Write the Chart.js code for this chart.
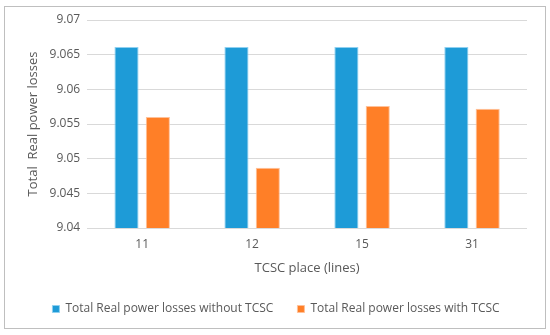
<!DOCTYPE html>
<html>
<head>
<meta charset="utf-8">
<script src="https://cdn.jsdelivr.net/npm/chart.js@4"></script>
<style>
  html, body { margin: 0; padding: 0; background: #fff; }
  #rahmen { position: absolute; left: 4px; top: 6px; width: 540px; height: 321px; border: 1px solid #bfbfbf; }
  #wrap { position: absolute; left: 0; top: 0; width: 550px; height: 335px; }
</style>
</head>
<body>
<div id="rahmen"></div>
<div id="wrap"><canvas id="chart" width="550" height="335"></canvas></div>
<script>
// Daten
const kategorien = ['11', '12', '15', '31'];
const ohneTCSC = [9.0661, 9.0661, 9.0661, 9.0661];
const mitTCSC = [9.0560, 9.0487, 9.0576, 9.0572];
const yTicks = [9.04, 9.045, 9.05, 9.055, 9.06, 9.065, 9.07];

const grau = '#595959';
const schrift = "'Open Sans', sans-serif";

new Chart(document.querySelector('#chart'), {
    type: 'bar',
    data: {
        labels: kategorien,
        datasets: [
            {
                label: 'Total Real power losses without TCSC',
                data: ohneTCSC,
                backgroundColor: '#1e9bd7',
                borderColor: '#8fd0f0',
                borderWidth: 1,
                barPercentage: 0.77,
                categoryPercentage: 0.57
            },
            {
                label: 'Total Real power losses with TCSC',
                data: mitTCSC,
                backgroundColor: '#ff7f27',
                borderColor: '#ffc199',
                borderWidth: 1,
                barPercentage: 0.77,
                categoryPercentage: 0.57
            }
        ]
    },
    options: {
        responsive: false,
        animation: false,
        layout: { padding: { left: 25, right: 23, top: 20, bottom: 10 } },
        scales: {
            y: {
                min: yTicks[0],
                max: yTicks[yTicks.length - 1],
                afterBuildTicks: function (axis) {
                    axis.ticks = yTicks.map(function (v) { return { value: v }; });
                },
                ticks: {
                    color: grau,
                    font: { size: 12, family: schrift },
                    padding: 7,
                    callback: function (value) { return String(parseFloat(value.toFixed(3))); }
                },
                grid: { color: '#d9d9d9', drawTicks: false },
                border: { display: false },
                title: {
                    display: true,
                    text: 'Total  Real power losses',
                    color: grau,
                    font: { size: 13, family: schrift },
                    padding: { top: 0, bottom: 2 }
                }
            },
            x: {
                ticks: { color: grau, font: { size: 12, family: schrift }, padding: 9 },
                grid: { display: false, drawTicks: false },
                border: { display: false },
                title: {
                    display: true,
                    text: 'TCSC place (lines)',
                    color: grau,
                    font: { size: 13, family: schrift },
                    padding: { top: 0, bottom: 3 }
                }
            }
        },
        plugins: {
            legend: {
                position: 'bottom',
                labels: {
                    color: grau,
                    font: { size: 12, family: schrift },
                    boxWidth: 7,
                    boxHeight: 7,
                    padding: 24
                }
            },
            tooltip: { enabled: false }
        }
    }
});
</script>
</body>
</html>
